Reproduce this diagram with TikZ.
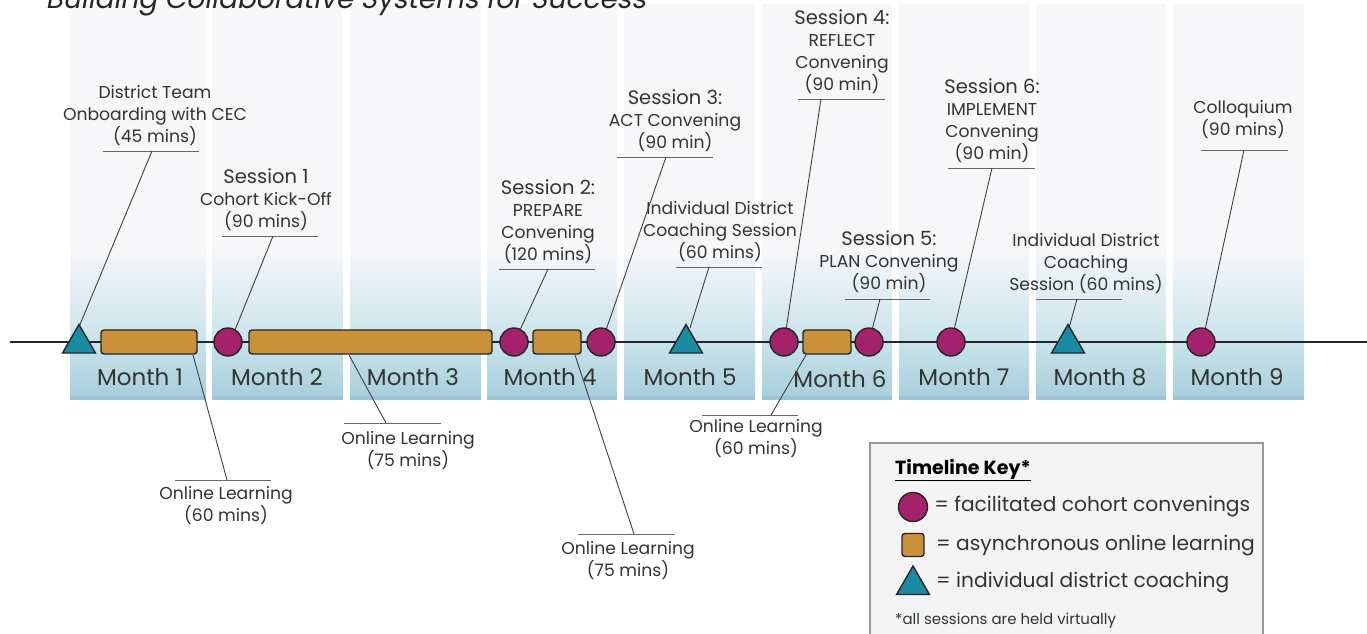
\documentclass[tikz,border=0pt]{standalone}
\usepackage{fontspec}
\setmainfont{Poppins}
\newfontfamily\titlefont[FakeSlant=0.18]{Poppins}
\usetikzlibrary{shapes.geometric,positioning}

\definecolor{convcol}{HTML}{A3226B}
\definecolor{onlinecol}{HTML}{C9923A}
\definecolor{coachcol}{HTML}{1B8AA3}
\definecolor{colgray}{HTML}{F7F7F9}
\definecolor{colblue}{HTML}{C8E3EB}
\definecolor{colbluedark}{HTML}{A9CFDC}
\definecolor{colstrip}{HTML}{9DC4D6}
\definecolor{keybg}{HTML}{F4F4F4}

\begin{document}
\begin{tikzpicture}[x=1pt,y=-1pt]
    \tikzset{convening/.style={circle,draw=black!85,line width=1.4pt,fill=convcol,
                minimum size=28pt,inner sep=0pt},
        onlinebox/.style={rectangle,rounded corners=3pt,draw=black!85,line width=1.4pt,
                fill=onlinecol,minimum height=24pt,inner sep=0pt},
        coaching/.style={regular polygon,regular polygon sides=3,draw=black!85,
                line width=1.4pt,fill=coachcol,minimum size=38pt,inner sep=0pt},
        callout/.style={align=center,font=\fontsize{17.2}{22}\selectfont,
                text=black!80,inner sep=0pt,anchor=south},
        monthlbl/.style={font=\fontsize{23}{26}\selectfont,text=black!80},
        keytext/.style={font=\fontsize{20.2}{23}\selectfont,text=black!80,inner sep=0pt},
        uline/.style={draw=black!60,line width=0.9pt},
        leader/.style={draw=black!75,line width=0.9pt}}
    \newcommand{\sesshead}[1]{{\fontsize{19.5}{22}\selectfont #1}}

    \useasboundingbox (0,0) rectangle (1367,634);

    % month columns
    \foreach \l/\r in {70/206,212/343,350/481,487/617,624/755,762/892,899/1029,1036/1166,1173/1304}{
        \fill[colgray] (\l,4) rectangle (\r,250);
        \shade[top color=colgray,bottom color=colblue] (\l,249.5) rectangle (\r,342);
        \shade[top color=colblue,bottom color=colbluedark] (\l,341.5) rectangle (\r,396);
        \fill[colstrip] (\l,395.5) rectangle (\r,400);
    }

    \node[anchor=base west,font=\titlefont\fontsize{28}{28}\selectfont,text=black!85]
        (title) at (42,9) {Building Collaborative Systems for Success};

    % timeline
    \coordinate (tl-start) at (10,342);
    \coordinate (tl-end) at (1367,342);
    \draw[line width=1.4pt,black!85] (tl-start) -- (tl-end);

    \foreach \n/\x in {1/140,2/277,3/413,4/550,5/690,7/964,8/1100,9/1237}
        \node[monthlbl] (m\n) at (\x,377) {Month \n};
    \node[monthlbl] (m6) at (840,379) {Month 6};

    % labels above the line
    \node[callout] (lbl-onb) at (155,146) {District Team\\Onboarding with CEC\\(45 mins)};
    \node[callout] (lbl-s1) at (266,231) {\sesshead{Session 1}\\Cohort Kick-Off\\(90 mins)};
    \node[callout] (lbl-s2) at (548,264) {\sesshead{Session 2:}\\PREPARE\\Convening\\(120 mins)};
    \node[callout] (lbl-s3) at (675,152) {\sesshead{Session 3:}\\ACT Convening\\(90 min)};
    \node[callout] (lbl-ic1) at (720,262) {Individual District\\Coaching Session\\(60 mins)};
    \node[callout] (lbl-s4) at (842,94) {\sesshead{Session 4:}\\REFLECT\\Convening\\(90 min)};
    \node[callout] (lbl-s5) at (889,293) {\sesshead{Session 5:}\\PLAN Convening\\(90 min)};
    \node[callout] (lbl-s6) at (992,163) {\sesshead{Session 6:}\\IMPLEMENT\\Convening\\(90 min)};
    \node[callout] (lbl-ic2) at (1086,294) {Individual District\\Coaching\\Session (60 mins)};
    \node[callout] (lbl-col) at (1243,139) {Colloquium\\(90 mins)};

    % labels below the line
    \node[callout,anchor=north] (lbl-ol1) at (226,486) {Online Learning\\(60 mins)};
    \node[callout,anchor=north] (lbl-ol2) at (408,431) {Online Learning\\(75 mins)};
    \node[callout,anchor=north] (lbl-ol3) at (628,541) {Online Learning\\(75 mins)};
    \node[callout,anchor=north] (lbl-ol4) at (756,419) {Online Learning\\(60 mins)};

    % underlines
    \foreach \a/\b/\y/\m [count=\k] in {103/199/151/152,222/318/236/273,499/595/269/548,
            617/713/157/666,676/762/267/709,798/885/99/821,845/930/299/880,
            948/1035/168/992,1036/1122/299/1077,1201/1288/150/1244,
            175/271/480/227,344/441/423/386,578/675/534/634,702/798/415/771}{
        \draw[uline] (\a,\y) -- (\b,\y);
        \coordinate (u\k) at (\m,\y);
    }

    % leaders (drawn before the markers)
    \draw[leader] (u1) -- (79,327);
    \draw[leader] (u2) -- (235,330);
    \draw[leader] (u3) -- (520,330);
    \draw[leader] (u4) -- (606,330);
    \draw[leader] (u5) -- (690,328);
    \draw[leader] (u6) -- (786,330);
    \draw[leader] (u7) -- (872,330);
    \draw[leader] (u8) -- (954,330);
    \draw[leader] (u9) -- (1069,328);
    \draw[leader] (u10) -- (1205,330);
    \draw[leader] (u11) -- (193,355);
    \draw[leader] (u12) -- (349,355);
    \draw[leader] (u13) -- (575,355);
    \draw[leader] (u14) -- (806,355);

    % markers
    \node[coaching] (tri1) at (79,343.5) {};
    \node[onlinebox,minimum width=96pt] (box1) at (149,342) {};
    \node[convening] (c1) at (228,342) {};
    \node[onlinebox,minimum width=243pt] (box2) at (370.5,342) {};
    \node[convening] (c2) at (514,342) {};
    \node[onlinebox,minimum width=48pt] (box3) at (557,342) {};
    \node[convening] (c3) at (601,342) {};
    \node[coaching] (tri2) at (686,343.5) {};
    \node[convening] (c4) at (784,342) {};
    \node[onlinebox,minimum width=48pt] (box4) at (827,342) {};
    \node[convening] (c5) at (869,342) {};
    \node[convening] (c6) at (951,342) {};
    \node[coaching] (tri3) at (1068,343.5) {};
    \node[convening] (c7) at (1201,342) {};

    % key
    \draw[draw=black!40,fill=keybg,line width=1.2pt] (870,443) rectangle (1263,660);
    \node[anchor=base west,font=\bfseries\fontsize{19}{22}\selectfont,inner sep=0pt]
        (key-title) at (895,474) {\underline{Timeline Key*}};
    \node[convening,minimum size=29pt] (key-c) at (913,507) {};
    \node[onlinebox,minimum width=22pt,minimum height=23pt] (key-b) at (913,545) {};
    \node[coaching] (key-t) at (913,585) {};
    \node[keytext,right=6pt of key-c] (key-ct) {= facilitated cohort convenings};
    \node[keytext,anchor=west] (key-bt) at (936,546) {= asynchronous online learning};
    \node[keytext,anchor=west] (key-tt) at (936,583) {= individual district coaching};
    \node[anchor=base west,font=\fontsize{15}{18}\selectfont,text=black!80,inner sep=0pt]
        (key-note) at (895,624) {*all sessions are held virtually};
\end{tikzpicture}
\end{document}
